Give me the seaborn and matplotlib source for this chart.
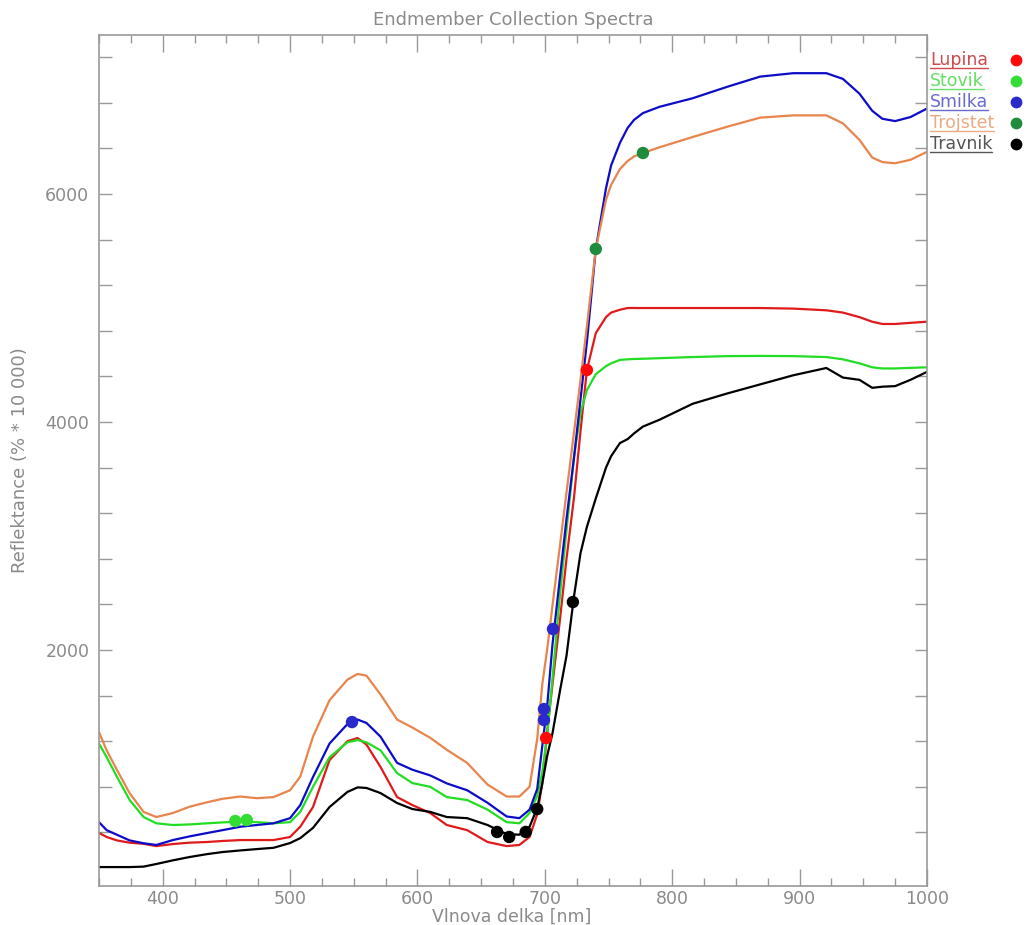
import numpy as np
import pandas as pd
import matplotlib
matplotlib.use("Agg")
import matplotlib.pyplot as plt
from matplotlib.ticker import MultipleLocator, FixedLocator
from matplotlib.lines import Line2D
import seaborn as sns

# ---------------- data ----------------
wavelength = [350, 356, 364, 374, 385, 395, 408, 421, 435, 447,
              461, 474, 487, 500, 508, 518, 531, 545, 553, 560,
              571, 584, 596, 610, 623, 639, 655, 670, 680, 688,
              694, 698, 702, 706, 712, 717, 723, 728, 733, 740,
              748, 752, 759, 765, 770, 777, 790, 816, 843, 869,
              895, 921, 934, 947, 957, 965, 975, 987, 1000]

lupina = [395, 360, 330, 310, 300, 280, 298, 310, 316, 325,
          333, 333, 333, 360, 450, 623, 1035, 1200, 1228, 1170,
          974, 710, 640, 570, 465, 420, 316, 280, 290, 360,
          560, 830, 1300, 1700, 2280, 2800, 3350, 3920, 4456, 4780,
          4920, 4960, 4985, 5000, 5000, 5000, 5000, 5000, 5000, 5000,
          4995, 4980, 4960, 4920, 4880, 4860, 4860, 4870, 4880]

stovik = [1180, 1060, 890, 685, 535, 480, 465, 470, 480, 488,
          495, 490, 480, 490, 580, 800, 1060, 1190, 1210, 1190,
          1120, 920, 833, 800, 710, 684, 600, 490, 480, 570,
          720, 930, 1270, 1750, 2500, 3050, 3700, 4080, 4280, 4420,
          4490, 4515, 4545, 4550, 4553, 4555, 4560, 4570, 4578, 4580,
          4578, 4570, 4550, 4515, 4480, 4470, 4470, 4475, 4480]

smilka = [490, 420, 380, 330, 305, 290, 333, 365, 395, 420,
          450, 465, 480, 525, 640, 886, 1180, 1350, 1390, 1360,
          1240, 1010, 950, 900, 830, 770, 660, 540, 525, 600,
          780, 1160, 1530, 2050, 2650, 3150, 3700, 4200, 4700, 5518,
          6050, 6250, 6450, 6580, 6650, 6710, 6765, 6840, 6940, 7030,
          7060, 7060, 7010, 6880, 6730, 6660, 6640, 6675, 6750]

trojstet = [1280, 1120, 950, 745, 580, 535, 570, 625, 665, 695,
            715, 700, 710, 770, 890, 1240, 1560, 1740, 1790, 1775,
            1610, 1390, 1320, 1230, 1125, 1010, 820, 715, 715, 800,
            1220, 1700, 2020, 2390, 2930, 3380, 3920, 4370, 4840, 5518,
            5950, 6080, 6220, 6290, 6330, 6360, 6410, 6500, 6590, 6670,
            6690, 6690, 6620, 6475, 6320, 6280, 6270, 6300, 6370]

travnik = [96, 96, 96, 96, 100, 123, 155, 184, 210, 228,
           242, 254, 265, 307, 350, 440, 623, 755, 795, 790,
           745, 658, 605, 580, 535, 525, 465, 385, 380, 450,
           614, 830, 1080, 1270, 1650, 1950, 2480, 2850, 3080, 3330,
           3600, 3700, 3816, 3850, 3900, 3960, 4020, 4160, 4250, 4330,
           4410, 4474, 4390, 4370, 4300, 4310, 4315, 4370, 4440]

series_names = ["Lupina", "Stovik", "Smilka", "Trojstet", "Travnik"]

# collected endmember pixels
point_names = ["Lupina", "Lupina", "Stovik", "Stovik",
               "Smilka", "Smilka", "Smilka", "Smilka",
               "Trojstet", "Trojstet",
               "Travnik", "Travnik", "Travnik", "Travnik", "Travnik"]
point_wl = [701, 733, 457, 466,
            548.6, 699.3, 699.3, 706.4,
            740, 777,
            662.5, 672, 685, 694, 722]
point_val = [1228, 4456, 500, 509,
             1368, 1482, 1386, 2184,
             5518, 6360,
             404, 360, 404, 605, 2421]

x_major = [400, 500, 600, 700, 800, 900, 1000]
y_major = [2000, 4000, 6000]
y_minor = [400, 800, 1200, 1600, 2400, 2800, 3200, 3600,
           4400, 4800, 5200, 5600, 6400, 6800, 7200]

# ---------------- styles ----------------
line_colors = {"Lupina": "#e01a1a", "Stovik": "#22dd22", "Smilka": "#0c0cc8",
               "Trojstet": "#e8844c", "Travnik": "#000000"}
dot_colors = {"Lupina": "#ff0a0a", "Stovik": "#33dd33", "Smilka": "#2a2acc",
              "Trojstet": "#1e8c3c", "Travnik": "#000000"}
label_colors = {"Lupina": "#cc4a4a", "Stovik": "#66dd66", "Smilka": "#6a6ad0",
                "Trojstet": "#e8aa84", "Travnik": "#555555"}
gray = "#8a8a8a"

sns.set_theme(style="white")
plt.rcParams["font.family"] = ["DejaVu Sans"]

W, H = 1027, 925
fig = plt.figure(figsize=(W / 100, H / 100), dpi=100)
ax = fig.add_axes([99 / W, 1 - 886 / H, (927 - 99) / W, (886 - 35) / H])

rows = []
for name, vals in zip(series_names, [lupina, stovik, smilka, trojstet, travnik]):
    for w, v in zip(wavelength, vals):
        rows.append({"wl": w, "val": v, "name": name})
df = pd.DataFrame(rows)

sns.lineplot(data=df, x="wl", y="val", hue="name", hue_order=series_names,
             palette=line_colors, sort=False, estimator=None, lw=1.6,
             legend=False, ax=ax)

pts = pd.DataFrame({"wl": point_wl, "val": point_val, "name": point_names})
sns.scatterplot(data=pts, x="wl", y="val", hue="name", hue_order=series_names,
                palette=dot_colors, s=80, linewidth=0, legend=False, ax=ax,
                zorder=5)

ax.set_xlim(350, 1000)
ax.set_ylim(-70, 7395)
ax.set_xlabel("")
ax.set_ylabel("")

ax.xaxis.set_major_locator(FixedLocator(x_major))
ax.xaxis.set_minor_locator(MultipleLocator(25))
ax.yaxis.set_major_locator(FixedLocator(y_major))
ax.yaxis.set_minor_locator(FixedLocator(y_minor))

for s in ax.spines.values():
    s.set_color("#999999")
    s.set_linewidth(1.2)

ax.tick_params(axis="x", which="major", direction="in", length=12, width=1,
               color="#999999", top=True, bottom=True, labelsize=12.5,
               labelcolor=gray, pad=3)
ax.tick_params(axis="x", which="minor", direction="in", length=6, width=1,
               color="#999999", top=True, bottom=True)
ax.tick_params(axis="y", which="both", direction="in", length=9, width=1,
               color="#999999", left=True, right=True, labelsize=12.5,
               labelcolor=gray, pad=7)
ax.set_yticklabels([str(v) for v in y_major])
ax.set_xticklabels([str(v) for v in x_major])

fig.text(513 / W, 1 - 20 / H, "Endmember Collection Spectra", ha="center",
         va="center", fontsize=13, color=gray)
fig.text(512 / W, 1 - 917 / H, "Vlnova delka [nm]", ha="center", va="center",
         fontsize=12.5, color=gray)
fig.text(20 / W, 1 - 460 / H, "Reflektance (% * 10 000)", ha="center",
         va="center", rotation=90, fontsize=13, color=gray)

# legend (names underlined, dots at right)
fig.canvas.draw()
renderer = fig.canvas.get_renderer()
leg_y = [60, 81, 102, 123, 144]
for name, yy in zip(series_names, leg_y):
    t = fig.text(930 / W, 1 - yy / H, name, ha="left", va="center",
                 fontsize=12.5, color=label_colors[name])
    bb = t.get_window_extent(renderer=renderer)
    x0, x1 = bb.x0 / W, bb.x1 / W
    yl = (bb.y0 + 1) / H
    fig.add_artist(Line2D([x0, x1], [yl, yl], color=label_colors[name], lw=1))
    fig.add_artist(Line2D([1016 / W], [1 - yy / H], marker="o", markersize=8.5,
                          color=dot_colors[name], markeredgewidth=0, ls="none"))

fig.savefig("out.png", dpi=100, facecolor="white")
